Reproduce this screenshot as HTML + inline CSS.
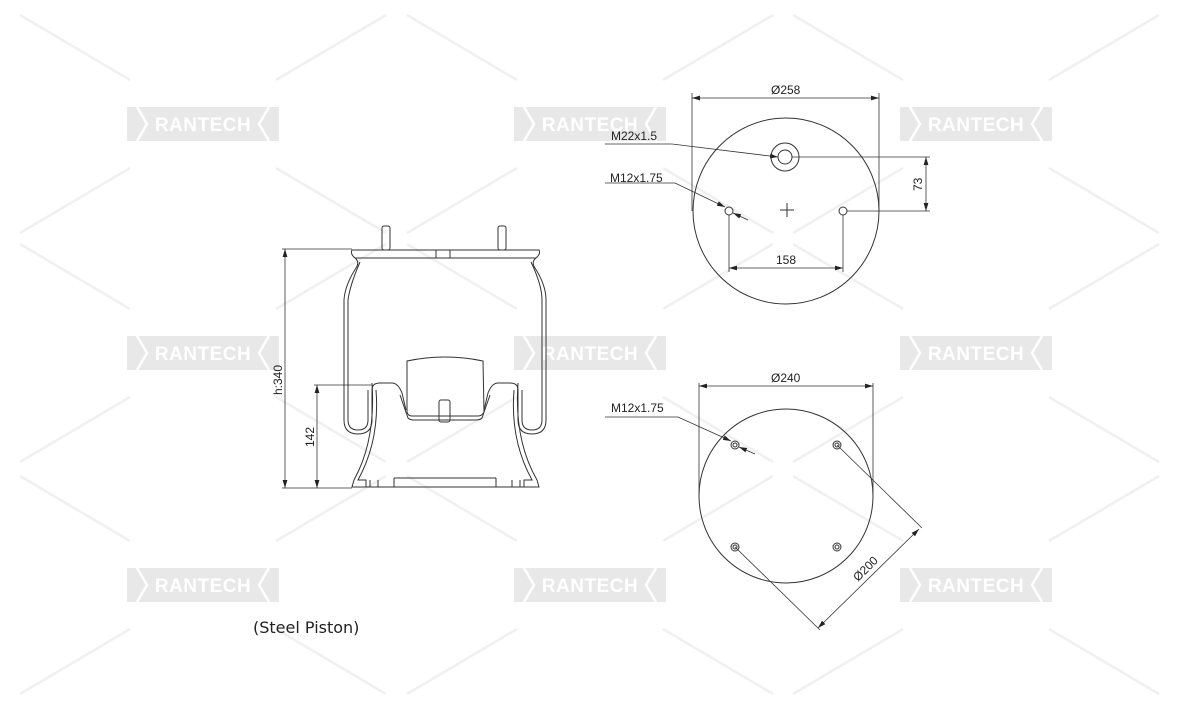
<!DOCTYPE html>
<html><head><meta charset="utf-8"><style>
html,body{margin:0;padding:0;background:#fff;}
svg{display:block;font-family:"Liberation Sans",Arial,sans-serif;}
</style></head><body>
<svg width="1181" height="709" viewBox="0 0 1181 709" xmlns="http://www.w3.org/2000/svg">
<defs>
<g id="wm">
  <g stroke="#f0f0f0" stroke-width="2.5" fill="none">
    <line x1="-183" y1="-109" x2="-73" y2="-44"/>
    <line x1="183" y1="-109" x2="73" y2="-44"/>
    <line x1="-183" y1="109" x2="-73" y2="44"/>
    <line x1="183" y1="109" x2="73" y2="44"/>
  </g>
  <rect x="-76" y="-17" width="152" height="34" fill="#e8e8e8"/>
  <polyline points="-66,-17 -56,0 -66,17" stroke="#fff" stroke-width="2.5" fill="none"/>
  <polyline points="66,-17 56,0 66,17" stroke="#fff" stroke-width="2.5" fill="none"/>
  <text x="0" y="7" text-anchor="middle" font-size="19" font-weight="bold" fill="#fff" letter-spacing="0.5">RANTECH</text>
</g>
<marker id="a" viewBox="0 0 10 10" refX="10" refY="5" markerWidth="8" markerHeight="8" orient="auto-start-reverse" markerUnits="userSpaceOnUse"><path d="M0,2 L10,5 L0,8z" fill="#222"/></marker>
</defs>
<use href="#wm" x="203" y="124"/><use href="#wm" x="590" y="124"/><use href="#wm" x="976" y="124"/>
<use href="#wm" x="203" y="353"/><use href="#wm" x="590" y="353"/><use href="#wm" x="976" y="353"/>
<use href="#wm" x="203" y="585"/><use href="#wm" x="590" y="585"/><use href="#wm" x="976" y="585"/>

<g stroke="#333" fill="none" stroke-width="1">
<rect x="382" y="226" width="8" height="24" rx="2"/><rect x="498" y="226" width="8" height="24" rx="2"/>
<path d="M352,250 L539,250 Q541,254 536,258 L355,258 Q350,254 352,250z"/>
<rect x="436" y="250" width="14" height="8"/>
<path d="M355,258 Q360,262 356,268 Q345,285 344,300 L344,420 Q344,434 358,434 Q372,434 372,420 L372,390 Q372,383 380,383 L392,383 Q398,383 402,393 L406,410"/>
<path d="M360,262 Q350,285 348,300 L348,420 Q348,430 358,430 Q368,430 368,420 L368,390"/>
<path d="M536,258 Q531,262 535,268 Q546,285 546,300 L546,420 Q546,434 532,434 Q518,434 518,420 L518,390 Q518,383 510,383 L498,383 Q492,383 488,393 L484,410"/>
<path d="M531,262 Q542,285 542,300 L542,420 Q542,430 532,430 Q522,430 522,420 L522,390"/>
<path d="M407,361 Q445,353 483,361 L484,412 Q482,416 478,416 L412,416 Q408,416 407,412z"/>
<path d="M400,395 L408,418 Q410,420 414,420 L476,420 Q480,420 482,418 L490,395"/>
<rect x="439" y="400" width="11" height="22" rx="2"/>
<path d="M372,383 Q376,440 354,480 L352,487 L539,487 L537,480 Q514,440 518,383"/>
<path d="M376,390 Q380,440 358,480 L366,480 L366,487 M514,390 Q510,440 532,480 L524,480 L524,487"/>
<line x1="394" y1="478" x2="496" y2="478"/><line x1="394" y1="478" x2="394" y2="487"/><line x1="496" y1="478" x2="496" y2="487"/>
<line x1="370" y1="480" x2="370" y2="487"/><line x1="378" y1="480" x2="378" y2="487"/><line x1="512" y1="480" x2="512" y2="487"/><line x1="520" y1="480" x2="520" y2="487"/>
<line x1="282" y1="249" x2="352" y2="249" stroke-width="0.8"/>
<line x1="282" y1="488" x2="352" y2="488" stroke-width="0.8"/>
<line x1="285" y1="249" x2="285" y2="488" marker-start="url(#a)" marker-end="url(#a)" stroke-width="0.8"/>
<line x1="314" y1="385" x2="372" y2="385" stroke-width="0.8"/>
<line x1="317" y1="385" x2="317" y2="488" marker-start="url(#a)" marker-end="url(#a)" stroke-width="0.8"/>

<circle cx="786" cy="211" r="93"/>
<circle cx="785" cy="157" r="14"/><circle cx="785" cy="157" r="7"/>
<circle cx="729" cy="211" r="4"/><circle cx="843" cy="211" r="4"/>
<line x1="780" y1="210" x2="794" y2="210"/><line x1="787" y1="203" x2="787" y2="217"/>
<g stroke-width="0.8">
<line x1="692" y1="93" x2="692" y2="211"/><line x1="879" y1="93" x2="879" y2="211"/>
<line x1="692" y1="98" x2="879" y2="98" marker-start="url(#a)" marker-end="url(#a)"/>
<line x1="792" y1="157" x2="930" y2="157"/><line x1="847" y1="211" x2="930" y2="211"/>
<line x1="926" y1="157" x2="926" y2="211" marker-start="url(#a)" marker-end="url(#a)"/>
<line x1="729" y1="215" x2="729" y2="272"/><line x1="843" y1="215" x2="843" y2="272"/>
<line x1="729" y1="268" x2="843" y2="268" marker-start="url(#a)" marker-end="url(#a)"/>
<polyline points="605,144 672,144 778,157" marker-end="url(#a)"/>
<polyline points="605,183 675,183 725,207" marker-end="url(#a)"/>
<line x1="748" y1="220" x2="733" y2="213" marker-end="url(#a)"/>
</g>

<ellipse cx="786" cy="496" rx="87" ry="87"/>
<g><circle cx="735" cy="445" r="4"/><circle cx="735" cy="445" r="2"/>
<circle cx="837" cy="445" r="4"/><circle cx="837" cy="445" r="2"/>
<circle cx="735" cy="547" r="4"/><circle cx="735" cy="547" r="2"/>
<circle cx="837" cy="547" r="4"/><circle cx="837" cy="547" r="2"/></g>
<g stroke-width="0.8">
<line x1="699" y1="383" x2="699" y2="496"/><line x1="873" y1="383" x2="873" y2="496"/>
<line x1="699" y1="386" x2="873" y2="386" marker-start="url(#a)" marker-end="url(#a)"/>
<line x1="837" y1="445" x2="922" y2="528"/><line x1="735" y1="547" x2="820" y2="630"/>
<line x1="919" y1="529" x2="818" y2="628" marker-start="url(#a)" marker-end="url(#a)"/>
<polyline points="605,417 678,417 731,441" marker-end="url(#a)"/>
<line x1="755" y1="454" x2="739" y2="447" marker-end="url(#a)"/>
</g>
</g>

<g fill="#222" font-size="12">
<text x="771" y="94">Ø258</text>
<text x="611" y="140">M22x1.5</text>
<text x="610" y="182">M12x1.75</text>
<text x="776" y="264">158</text>
<text x="0" y="0" transform="translate(922,191) rotate(-90)">73</text>
<text x="771" y="382">Ø240</text>
<text x="611" y="412">M12x1.75</text>
<text x="0" y="0" transform="translate(858,582) rotate(-45)">Ø200</text>
<text x="0" y="0" transform="translate(282,395) rotate(-90)">h:340</text>
<text x="0" y="0" transform="translate(314,447) rotate(-90)">142</text>
</g>
<text x="253" y="633" font-size="16" fill="#222" font-family="'DejaVu Sans','Liberation Sans',sans-serif">(Steel Piston)</text>
</svg>
</body></html>
